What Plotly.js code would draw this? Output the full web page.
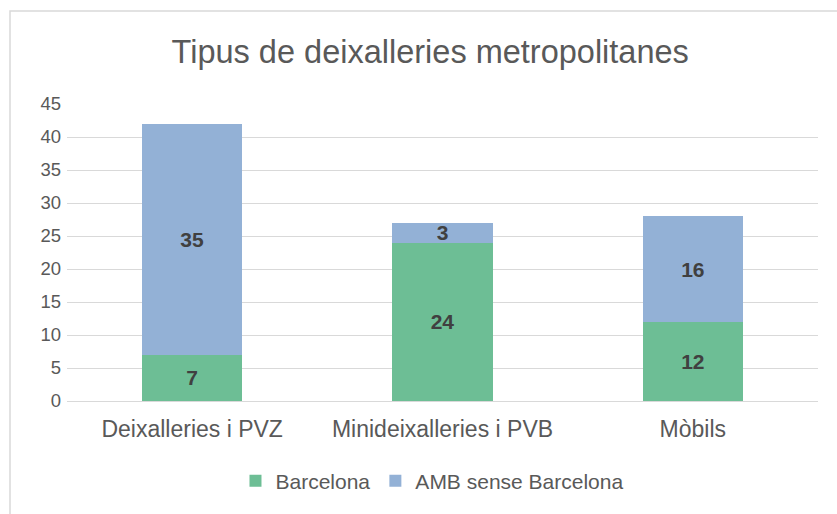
<!DOCTYPE html>
<html>
<head>
<meta charset="utf-8">
<script src="https://cdn.plot.ly/plotly-3.0.1.min.js"></script>
<style>
html,body{margin:0;padding:0;background:#fff;}
#chart{width:837px;height:514px;}
</style>
</head>
<body>
<div id="chart"></div>
<script>
const categories = ["Deixalleries i PVZ", "Minideixalleries i PVB", "Mòbils"];
const barcelona = [7, 24, 12];
const ambSenseBarcelona = [35, 3, 16];
const seriesNames = ["Barcelona", "AMB sense Barcelona"];
const yTicks = [0, 5, 10, 15, 20, 25, 30, 35, 40, 45];

const labelFont = {family: "Liberation Sans, Arial, sans-serif", size: 21, color: "#404040", weight: "bold"};

const traces = [
  {
    type: "bar", name: seriesNames[0], x: categories, y: barcelona,
    marker: {color: "#6dbe95"},
    text: barcelona.map(String), textposition: "inside", insidetextanchor: "middle",
    textangle: 0, constraintext: "none", textfont: labelFont, hoverinfo: "none"
  },
  {
    type: "bar", name: seriesNames[1], x: categories, y: ambSenseBarcelona,
    marker: {color: "#93b1d6"},
    text: ambSenseBarcelona.map(String), textposition: "inside", insidetextanchor: "middle",
    textangle: 0, constraintext: "none", textfont: labelFont, hoverinfo: "none"
  }
];

const layout = {
  width: 837, height: 514,
  margin: {l: 67, r: 19, t: 104, b: 113},
  paper_bgcolor: "#ffffff", plot_bgcolor: "#ffffff",
  font: {family: "Liberation Sans, Arial, sans-serif", color: "#595959"},
  barmode: "stack",
  bargap: 0.6,
  title: {text: "Tipus de deixalleries metropolitanes", font: {size: 32.5, color: "#595959"},
          x: 0.514, xref: "container", xanchor: "center", y: 0.899, yref: "container", yanchor: "middle"},
  xaxis: {
    type: "category", tickfont: {size: 23, color: "#595959"},
    showgrid: false, zeroline: false, showline: false, ticks: "", ticklen: 0,
    ticklabelstandoff: 12
  },
  yaxis: {
    range: [0, 45], tickvals: yTicks, ticktext: yTicks.map(String),
    tickfont: {size: 18.5, color: "#595959"},
    showgrid: true, gridcolor: "#d9d9d9", gridwidth: 1,
    zeroline: true, zerolinecolor: "#d9d9d9", zerolinewidth: 1,
    showline: false, ticks: "", ticklabelstandoff: 5
  },
  showlegend: true,
  legend: {orientation: "h", x: 0.486, xanchor: "center", y: -0.27, yanchor: "middle",
           font: {size: 21, color: "#595959"}, traceorder: "normal", itemwidth: 30},
  shapes: [{
    type: "rect", xref: "paper", yref: "paper",
    x0: -0.0759, x1: 1.03, y0: -0.45, y1: 1.313,
    line: {color: "#d9d9d9", width: 1.5}, fillcolor: "rgba(0,0,0,0)", layer: "below"
  }]
};

Plotly.newPlot("chart", traces, layout, {displayModeBar: false, staticPlot: true});
</script>
</body>
</html>
